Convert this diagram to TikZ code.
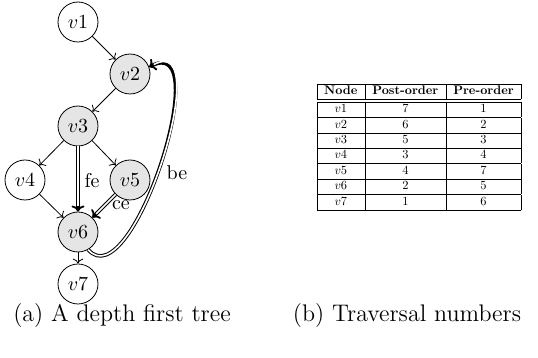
\documentclass[tikz,border=0pt]{standalone}
\usepackage{graphicx}
\usetikzlibrary{arrows.meta}
\begin{document}
\begin{tikzpicture}[x=0.5pt,y=-0.5pt,
  vtx/.style={circle,draw,minimum size=20pt,inner sep=0pt,font=\normalsize},
  shaded/.style={vtx,fill=gray!20},
  tree/.style={->},
  spec/.style={line width=1.8pt,-{To[length=3pt,width=6.5pt,line width=0.9pt]},
    postaction={draw=white,line width=0.8pt,-,shorten >=2.6pt}},
  lab/.style={font=\normalsize,inner sep=1pt}]
\useasboundingbox (0,0) rectangle (538,358);
\node[vtx]    (v1) at (78,22)  {$v1$};
\node[shaded] (v2) at (130,74) {$v2$};
\node[shaded] (v3) at (78,126) {$v3$};
\node[vtx]    (v4) at (25,180) {$v4$};
\node[shaded] (v5) at (130,180) {$v5$};
\node[shaded] (v6) at (78,232) {$v6$};
\node[vtx]    (v7) at (78,284) {$v7$};
\draw[tree] (v1) -- (v2);
\draw[tree] (v2) -- (v3);
\draw[tree] (v3) -- (v4);
\draw[tree] (v3) -- (v5);
\draw[tree] (v4) -- (v6);
\draw[tree] (v6) -- (v7);
\draw[spec] (v3) -- (v6);
\node[lab] (fe) at (92,181) {fe};
\draw[spec] (v5) -- (v6);
\node[lab] (ce) at (121,205) {ce};
\draw[spec] (v6.-60) .. controls (132,300) and (218,30) .. (v2.20);
\node[lab] (be) at (177,173) {be};
\node (tab) at (419,147) {\scalebox{0.622}{%
\begin{tabular}{|c|c|c|}
\hline
\textbf{Node} & \textbf{Post-order} & \textbf{Pre-order}\\
\hline\hline
$v1$ & 7 & 1\\ \hline
$v2$ & 6 & 2\\ \hline
$v3$ & 5 & 3\\ \hline
$v4$ & 3 & 4\\ \hline
$v5$ & 4 & 7\\ \hline
$v6$ & 2 & 5\\ \hline
$v7$ & 1 & 6\\ \hline
\end{tabular}}};
\node[font=\large] (capa) at (122,316) {(a) A depth first tree};
\node[font=\large] (capb) at (407,316) {(b) Traversal numbers};
\end{tikzpicture}
\end{document}
